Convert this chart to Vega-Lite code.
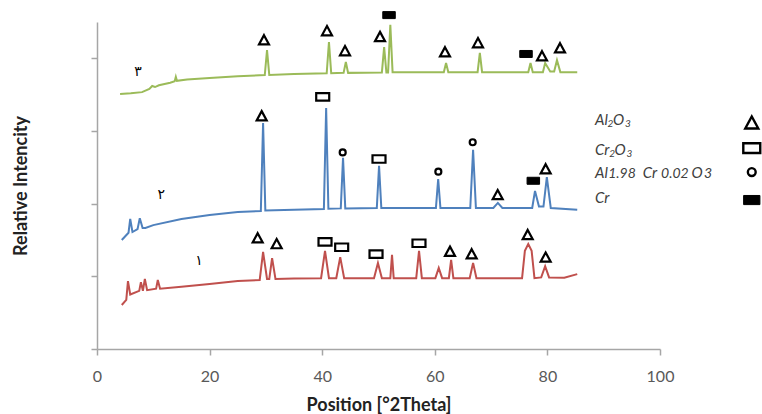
{
  "$schema": "https://vega.github.io/schema/vega-lite/v6.json",
  "width": 563,
  "height": 327,
  "autosize": "none",
  "padding": {"left": 97, "top": 22, "right": 102, "bottom": 65},
  "background": "white",
  "config": {"view": {"stroke": null}},
  "datasets": {
    "traces": [
      {"s":"3","t":4.1,"i":702},{"s":"3","t":6,"i":704},{"s":"3","t":8,"i":707},{"s":"3","t":9.3,"i":716},{"s":"3","t":9.8,"i":724},{"s":"3","t":10.3,"i":721},{"s":"3","t":11,"i":726},{"s":"3","t":13,"i":733},{"s":"3","t":13.8,"i":737},{"s":"3","t":14.0,"i":749},{"s":"3","t":14.2,"i":738},{"s":"3","t":16,"i":742},{"s":"3","t":20,"i":746},{"s":"3","t":25,"i":751},{"s":"3","t":29.8,"i":754},{"s":"3","t":30.2,"i":823},{"s":"3","t":30.6,"i":754},{"s":"3","t":35,"i":757},{"s":"3","t":40.8,"i":759},{"s":"3","t":41.2,"i":845},{"s":"3","t":41.6,"i":759},{"s":"3","t":43.8,"i":760},{"s":"3","t":44.2,"i":790},{"s":"3","t":44.6,"i":760},{"s":"3","t":50.6,"i":761},{"s":"3","t":51.0,"i":831},{"s":"3","t":51.4,"i":761},{"s":"3","t":51.7,"i":761},{"s":"3","t":52.1,"i":892},{"s":"3","t":52.5,"i":762},{"s":"3","t":61.6,"i":762},{"s":"3","t":62.0,"i":787},{"s":"3","t":62.4,"i":762},{"s":"3","t":67.6,"i":762},{"s":"3","t":68.0,"i":815},{"s":"3","t":68.4,"i":762},{"s":"3","t":76.6,"i":762},{"s":"3","t":77.0,"i":787},{"s":"3","t":77.4,"i":762},{"s":"3","t":79.2,"i":762},{"s":"3","t":79.6,"i":787},{"s":"3","t":80.5,"i":764},{"s":"3","t":81.2,"i":764},{"s":"3","t":81.7,"i":795},{"s":"3","t":82.3,"i":762},{"s":"3","t":85.3,"i":762},
      {"s":"2","t":4.4,"i":300},{"s":"2","t":5.6,"i":320},{"s":"2","t":5.9,"i":358},{"s":"2","t":6.3,"i":322},{"s":"2","t":7.2,"i":330},{"s":"2","t":7.6,"i":360},{"s":"2","t":8.1,"i":333},{"s":"2","t":8.6,"i":333},{"s":"2","t":10,"i":341},{"s":"2","t":15,"i":358},{"s":"2","t":20,"i":369},{"s":"2","t":25,"i":377},{"s":"2","t":29.1,"i":380},{"s":"2","t":29.5,"i":622},{"s":"2","t":29.9,"i":381},{"s":"2","t":35,"i":383},{"s":"2","t":40.3,"i":385},{"s":"2","t":40.7,"i":663},{"s":"2","t":41.1,"i":386},{"s":"2","t":43.3,"i":387},{"s":"2","t":43.7,"i":526},{"s":"2","t":44.1,"i":387},{"s":"2","t":49.7,"i":388},{"s":"2","t":50.1,"i":504},{"s":"2","t":50.5,"i":388},{"s":"2","t":60.2,"i":388},{"s":"2","t":60.6,"i":468},{"s":"2","t":61.0,"i":388},{"s":"2","t":66.3,"i":388},{"s":"2","t":66.8,"i":548},{"s":"2","t":67.3,"i":388},{"s":"2","t":70.4,"i":388},{"s":"2","t":71.2,"i":402},{"s":"2","t":72.0,"i":388},{"s":"2","t":77.3,"i":388},{"s":"2","t":77.8,"i":435},{"s":"2","t":78.5,"i":392},{"s":"2","t":79.3,"i":392},{"s":"2","t":79.9,"i":473},{"s":"2","t":80.6,"i":388},{"s":"2","t":85.3,"i":383},
      {"s":"1","t":4.4,"i":121},{"s":"1","t":5.2,"i":135},{"s":"1","t":5.5,"i":187},{"s":"1","t":5.9,"i":150},{"s":"1","t":7.5,"i":160},{"s":"1","t":7.8,"i":184},{"s":"1","t":8.15,"i":160},{"s":"1","t":8.5,"i":193},{"s":"1","t":8.9,"i":162},{"s":"1","t":10.5,"i":166},{"s":"1","t":10.8,"i":190},{"s":"1","t":11.2,"i":166},{"s":"1","t":15,"i":171},{"s":"1","t":20,"i":179},{"s":"1","t":25,"i":187},{"s":"1","t":28.9,"i":190},{"s":"1","t":29.5,"i":267},{"s":"1","t":30.2,"i":193},{"s":"1","t":30.6,"i":193},{"s":"1","t":31.1,"i":250},{"s":"1","t":31.7,"i":193},{"s":"1","t":35,"i":194},{"s":"1","t":39.8,"i":195},{"s":"1","t":40.5,"i":270},{"s":"1","t":41.2,"i":195},{"s":"1","t":42.5,"i":195},{"s":"1","t":43.2,"i":253},{"s":"1","t":43.9,"i":195},{"s":"1","t":49.2,"i":195},{"s":"1","t":49.9,"i":237},{"s":"1","t":50.6,"i":195},{"s":"1","t":52.1,"i":195},{"s":"1","t":52.4,"i":259},{"s":"1","t":52.7,"i":195},{"s":"1","t":56.7,"i":195},{"s":"1","t":57.2,"i":270},{"s":"1","t":57.7,"i":195},{"s":"1","t":60.1,"i":195},{"s":"1","t":60.7,"i":223},{"s":"1","t":61.3,"i":195},{"s":"1","t":62.5,"i":195},{"s":"1","t":62.9,"i":245},{"s":"1","t":63.3,"i":195},{"s":"1","t":66.2,"i":195},{"s":"1","t":66.8,"i":237},{"s":"1","t":67.4,"i":195},{"s":"1","t":75.5,"i":195},{"s":"1","t":76.0,"i":270},{"s":"1","t":76.6,"i":289},{"s":"1","t":77.2,"i":270},{"s":"1","t":77.7,"i":195},{"s":"1","t":78.9,"i":197},{"s":"1","t":79.6,"i":228},{"s":"1","t":80.3,"i":197},{"s":"1","t":83,"i":196},{"s":"1","t":85.3,"i":206}
    ],
    "markers": [
      {"p":"Al2O3","t":29.66,"i":850},{"p":"Al2O3","t":40.85,"i":875},{"p":"Al2O3","t":44.05,"i":820},{"p":"Al2O3","t":50.27,"i":859},{"p":"Cr","t":51.87,"i":919},{"p":"Al2O3","t":61.81,"i":817},{"p":"Al2O3","t":67.67,"i":842},{"p":"Cr","t":76.2,"i":812},{"p":"Al2O3","t":79.04,"i":806},{"p":"Al2O3","t":82.24,"i":828},
      {"p":"Al2O3","t":29.25,"i":641},{"p":"Cr2O3","t":40.09,"i":694},{"p":"AlCrO3","t":43.64,"i":541},{"p":"Cr2O3","t":50.09,"i":523},{"p":"AlCrO3","t":60.63,"i":488},{"p":"AlCrO3","t":66.73,"i":569},{"p":"Al2O3","t":71.17,"i":424},{"p":"Cr","t":77.5,"i":463},{"p":"Al2O3","t":79.69,"i":495},
      {"p":"Al2O3","t":28.54,"i":305},{"p":"Al2O3","t":31.91,"i":289},{"p":"Cr2O3","t":40.5,"i":295},{"p":"Cr2O3","t":43.46,"i":280},{"p":"Cr2O3","t":49.56,"i":261},{"p":"Cr2O3","t":57.19,"i":291},{"p":"Al2O3","t":62.7,"i":268},{"p":"Al2O3","t":66.55,"i":261},{"p":"Al2O3","t":76.5,"i":314},{"p":"Al2O3","t":79.69,"i":252}
    ],
    "legendSymbols": [
      {"p":"Al2O3","t":116.3,"i":622},{"p":"Cr2O3","t":116.3,"i":553},{"p":"AlCrO3","t":116.3,"i":487},{"p":"Cr","t":116.3,"i":410}
    ],
    "legendText": [
      {"c":"big","t":88.45,"i":616.4,"txt":"Al"},{"c":"sub","t":90.67,"i":611.8,"txt":"2"},{"c":"big","t":91.65,"i":616.4,"txt":"O"},{"c":"sub","t":93.78,"i":611.8,"txt":"3"},
      {"c":"big","t":88.45,"i":533.9,"txt":"Cr"},{"c":"sub","t":90.99,"i":529.2,"txt":"2"},{"c":"big","t":91.92,"i":533.9,"txt":"O"},{"c":"sub","t":94.05,"i":529.2,"txt":"3"},
      {"c":"big","t":88.45,"i":469.8,"txt":"Al"},{"c":"mid","t":90.8,"i":469.8,"txt":"1.98"},{"c":"big","t":96.93,"i":469.8,"txt":"Cr"},{"c":"mid","t":100.18,"i":469.8,"txt":"0.02"},{"c":"big","t":105.6,"i":469.8,"txt":"O"},{"c":"mid","t":107.82,"i":469.8,"txt":"3"},
      {"c":"big","t":88.45,"i":401.0,"txt":"Cr"}
    ],
    "labels": [
      {"t":7.3,"i":762,"txt":"۳"},{"t":11.4,"i":424,"txt":"۲"},{"t":18.1,"i":242,"txt":"۱"}
    ]
  },
  "layer": [
    {
      "data": {"name": "traces"},
      "mark": {"type": "line", "strokeWidth": 2, "interpolate": "linear"},
      "encoding": {
        "x": {"field": "t", "type": "quantitative", "scale": {"domain": [0, 100], "nice": false},
          "axis": {"values": [0, 20, 40, 60, 80, 100], "grid": false, "title": "Position [°2Theta]", "labelFlush": false, "labelOverlap": false, "domainColor": "#a6a6a6", "domainWidth": 1.5, "tickColor": "#a6a6a6", "tickWidth": 1.5, "tickSize": 6, "labelFont": "Lato", "labelFontSize": 16, "labelColor": "#595959", "labelPadding": 13, "titleFont": "Lato", "titleFontSize": 18, "titleFontWeight": "bold", "titleColor": "#222222", "titlePadding": 12}},
        "y": {"field": "i", "type": "quantitative", "scale": {"domain": [0, 900], "nice": false},
          "axis": {"values": [0, 100, 200, 300, 400, 500, 600, 700, 800, 900], "grid": false, "labels": false, "title": "Relative Intencity", "domainColor": "#a6a6a6", "domainWidth": 1.5, "tickColor": "#a6a6a6", "tickWidth": 1.5, "tickSize": 6, "titleFont": "Lato", "titleFontSize": 18, "titleFontWeight": "bold", "titleColor": "#222222", "titlePadding": 60}},
        "color": {"field": "s", "type": "nominal", "scale": {"domain": ["1", "2", "3"], "range": ["#c0504d", "#4f81bd", "#9bbb59"]}, "legend": null}
      }
    },
    {
      "data": {"name": "markers"},
      "transform": [{"filter": "datum.p !== 'Cr'"}],
      "mark": {"type": "point", "filled": false, "stroke": "black", "strokeWidth": 2.2, "size": 100, "opacity": 1},
      "encoding": {
        "x": {"field": "t", "type": "quantitative"},
        "y": {"field": "i", "type": "quantitative"},
        "shape": {"field": "p", "type": "nominal", "legend": null, "scale": {"domain": ["Al2O3", "Cr2O3", "AlCrO3"], "range": ["M0,-1L1,0.85L-1,0.85Z", "M-1.3,-0.75H1.3V0.75H-1.3Z", "M0.6,0A0.6,0.6,0,1,1,-0.6,0A0.6,0.6,0,1,1,0.6,0Z"]}}
      }
    },
    {
      "data": {"name": "markers"},
      "transform": [{"filter": "datum.p === 'Cr'"}],
      "mark": {"type": "point", "filled": true, "fill": "black", "stroke": "black", "strokeWidth": 1, "size": 100, "opacity": 1, "shape": "M-1.25,-0.7H1.25V0.7H-1.25Z"},
      "encoding": {
        "x": {"field": "t", "type": "quantitative"},
        "y": {"field": "i", "type": "quantitative"}
      }
    },
    {
      "data": {"name": "legendSymbols"},
      "transform": [{"filter": "datum.p !== 'Cr'"}],
      "mark": {"type": "point", "filled": false, "stroke": "black", "strokeWidth": 2.4, "size": 170, "opacity": 1, "clip": false},
      "encoding": {
        "x": {"field": "t", "type": "quantitative"},
        "y": {"field": "i", "type": "quantitative"},
        "shape": {"field": "p", "type": "nominal", "legend": null}
      }
    },
    {
      "data": {"name": "legendSymbols"},
      "transform": [{"filter": "datum.p === 'Cr'"}],
      "mark": {"type": "point", "filled": true, "fill": "black", "stroke": "black", "strokeWidth": 1, "size": 170, "opacity": 1, "shape": "M-1.25,-0.7H1.25V0.7H-1.25Z"},
      "encoding": {
        "x": {"field": "t", "type": "quantitative"},
        "y": {"field": "i", "type": "quantitative"}
      }
    },
    {
      "data": {"name": "legendText"},
      "transform": [{"filter": "datum.c === 'big'"}],
      "mark": {"type": "text", "align": "left", "baseline": "alphabetic", "font": "Lato", "fontStyle": "italic", "fontSize": 15, "fill": "#404040"},
      "encoding": {
        "x": {"field": "t", "type": "quantitative"},
        "y": {"field": "i", "type": "quantitative"},
        "text": {"field": "txt"}
      }
    },
    {
      "data": {"name": "legendText"},
      "transform": [{"filter": "datum.c === 'sub'"}],
      "mark": {"type": "text", "align": "left", "baseline": "alphabetic", "font": "Lato", "fontStyle": "italic", "fontSize": 10, "fill": "#404040"},
      "encoding": {
        "x": {"field": "t", "type": "quantitative"},
        "y": {"field": "i", "type": "quantitative"},
        "text": {"field": "txt"}
      }
    },
    {
      "data": {"name": "legendText"},
      "transform": [{"filter": "datum.c === 'mid'"}],
      "mark": {"type": "text", "align": "left", "baseline": "alphabetic", "font": "Lato", "fontStyle": "italic", "fontSize": 14, "fill": "#404040"},
      "encoding": {
        "x": {"field": "t", "type": "quantitative"},
        "y": {"field": "i", "type": "quantitative"},
        "text": {"field": "txt"}
      }
    },
    {
      "data": {"name": "labels"},
      "mark": {"type": "text", "align": "center", "baseline": "middle", "font": "DejaVu Sans", "fontSize": 14, "fill": "black"},
      "encoding": {
        "x": {"field": "t", "type": "quantitative"},
        "y": {"field": "i", "type": "quantitative"},
        "text": {"field": "txt"}
      }
    }
  ]
}
